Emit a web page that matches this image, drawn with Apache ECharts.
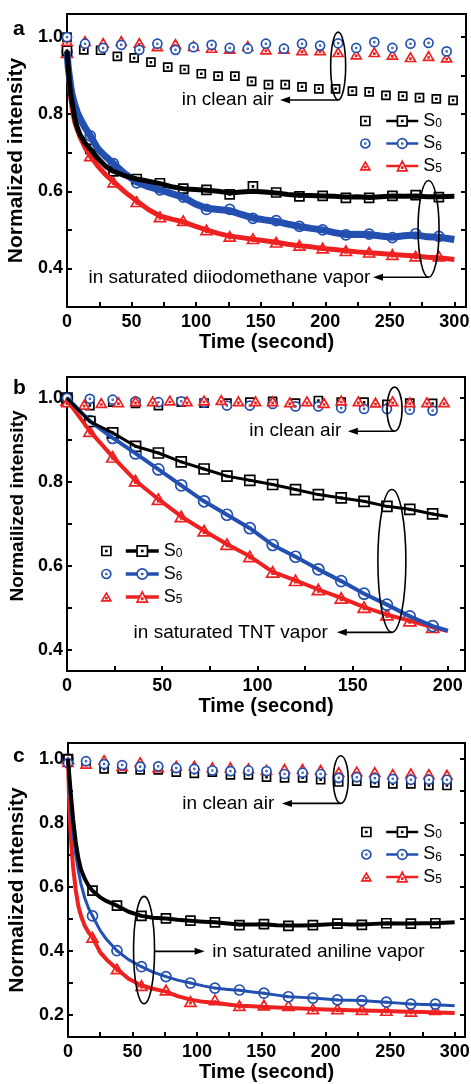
<!DOCTYPE html>
<html><head><meta charset="utf-8">
<script src="https://cdn.jsdelivr.net/npm/echarts@6/dist/echarts.min.js"></script>
<style>html,body{margin:0;padding:0;background:#fff}#c{width:471px;height:1084px}</style>
</head><body><div id="c"></div>
<script>
// ================= DATA =================
// ---- panel a : diiodomethane ----
const aAirSqX = [0,13,26,39,52,65,78,91,104,117,130,143,156,169,182,195,208,221,234,247,260,273,286,299];
const aAirSq  = [1.0,0.967,0.966,0.95,0.946,0.935,0.922,0.916,0.905,0.899,0.899,0.885,0.877,0.877,0.871,0.866,0.866,0.86,0.858,0.849,0.847,0.843,0.84,0.836];
const aAirX   = [0,14,28,42,56,70,84,98,112,126,140,154,168,182,196,210,224,238,252,266,280,294];
const aAirCi  = [1.0,0.983,0.972,0.980,0.967,0.983,0.967,0.974,0.980,0.972,0.970,0.983,0.970,0.983,0.978,0.984,0.972,0.987,0.972,0.983,0.985,0.963];
const aAirTr  = [0.99,0.99,0.985,0.99,0.985,0.976,0.982,0.977,0.972,0.970,0.977,0.968,0.970,0.966,0.966,0.961,0.955,0.961,0.954,0.948,0.951,0.947];
const aLineX  = [0,1,2,3,4,6,8,10,14,18,24,30,36,45,54,63,72,81,90,99,108,117,126,135,144,153,162,171,180,189,198,207,216,225,234,243,252,261,270,279,288,300];
const aS0 = [0.965,0.92,0.88,0.85,0.83,0.79,0.765,0.748,0.725,0.71,0.685,0.665,0.652,0.64,0.632,0.626,0.62,0.612,0.607,0.605,0.603,0.600,0.596,0.598,0.6,0.598,0.596,0.592,0.59,0.589,0.588,0.587,0.585,0.586,0.584,0.586,0.588,0.587,0.588,0.586,0.586,0.587];
const aS6 = [0.962,0.92,0.895,0.87,0.85,0.825,0.805,0.79,0.765,0.744,0.71,0.69,0.672,0.645,0.624,0.612,0.604,0.594,0.585,0.568,0.556,0.553,0.55,0.54,0.531,0.526,0.522,0.515,0.509,0.504,0.500,0.493,0.488,0.489,0.488,0.484,0.481,0.485,0.487,0.482,0.481,0.475];
const aS5 = [0.96,0.91,0.87,0.84,0.815,0.78,0.76,0.742,0.714,0.692,0.665,0.643,0.625,0.598,0.575,0.553,0.536,0.528,0.521,0.51,0.5,0.491,0.484,0.48,0.476,0.472,0.468,0.463,0.459,0.456,0.452,0.449,0.446,0.443,0.441,0.439,0.436,0.434,0.432,0.429,0.428,0.423];
const aMarkX  = [0,18,36,54,72,90,108,126,144,162,180,198,216,234,252,270,288];
const aMarkS0 = [0.965,0.71,0.652,0.632,0.621,0.607,0.604,0.592,0.613,0.597,0.587,0.588,0.583,0.583,0.588,0.590,0.585];
const aMarkS6 = [0.962,0.744,0.672,0.622,0.604,0.585,0.553,0.553,0.530,0.524,0.509,0.500,0.487,0.489,0.480,0.490,0.483];
const aMarkS5 = [0.96,0.692,0.624,0.573,0.534,0.524,0.500,0.483,0.477,0.468,0.460,0.453,0.446,0.442,0.436,0.432,0.432];

// ---- panel b : TNT ----
const bAirTrX = [0,9,18,27,36,45,54,63,72,81,90,99,108,117,126,135,144,153,162,171,180,189,198];
const bAirTr  = [0.99,0.984,0.988,0.990,0.992,0.992,0.994,0.992,0.994,0.995,0.992,0.992,0.992,0.990,0.992,0.988,0.994,0.992,0.989,0.992,0.990,0.990,0.990];
const bAirX   = [0,12,24,36,48,60,72,84,96,108,120,132,144,156,168,180,192];
const bAirCi  = [1.0,0.998,0.996,0.992,0.990,0.992,0.989,0.982,0.982,0.986,0.980,0.980,0.976,0.974,0.974,0.972,0.970];
const bAirSq  = [1.0,0.982,0.990,0.987,0.982,0.990,0.988,0.988,0.990,0.992,0.988,0.994,0.990,0.990,0.985,0.988,0.987];
const bLineX  = [0,12,24,36,48,60,72,84,96,108,120,132,144,156,168,180,192,200];
const bS0 = [1.0,0.944,0.917,0.885,0.869,0.848,0.831,0.814,0.804,0.794,0.782,0.770,0.762,0.754,0.742,0.735,0.724,0.718];
const bS6 = [1.0,0.945,0.905,0.868,0.830,0.792,0.754,0.722,0.690,0.650,0.622,0.592,0.564,0.534,0.508,0.480,0.457,0.446];
const bS5 = [0.995,0.921,0.860,0.803,0.759,0.718,0.684,0.652,0.623,0.586,0.566,0.544,0.524,0.502,0.484,0.470,0.454,0.445];

// ---- panel c : aniline ----
const cAirX   = [0,14,28,42,56,70,84,98,112,126,140,154,168,182,196,210,224,238,252,266,280,294];
const cAirSq  = [1.0,0.985,0.969,0.969,0.966,0.966,0.959,0.955,0.959,0.950,0.950,0.943,0.941,0.941,0.935,0.928,0.931,0.925,0.922,0.922,0.917,0.917];
const cAirCi  = [0.987,0.993,0.984,0.981,0.976,0.977,0.972,0.969,0.964,0.962,0.964,0.962,0.953,0.957,0.953,0.941,0.943,0.940,0.938,0.935,0.935,0.935];
const cAirTr  = [0.99,0.985,0.997,0.978,0.990,0.974,0.979,0.979,0.974,0.974,0.971,0.966,0.969,0.969,0.966,0.959,0.961,0.959,0.953,0.955,0.953,0.951];
const cLineX  = [0,1,2,3,4,6,8,10,13,16,19,25,30,38,47,57,66,76,85,95,105,114,124,133,143,152,162,171,181,190,200,209,219,228,238,247,257,266,276,285,300];
const cS0 = [1.0,0.95,0.9,0.855,0.81,0.74,0.69,0.655,0.625,0.603,0.588,0.567,0.555,0.541,0.522,0.509,0.503,0.501,0.497,0.494,0.491,0.489,0.485,0.482,0.482,0.483,0.480,0.479,0.479,0.480,0.482,0.484,0.482,0.482,0.484,0.486,0.485,0.485,0.486,0.486,0.489];
const cS6 = [1.0,0.92,0.86,0.81,0.77,0.70,0.65,0.61,0.565,0.532,0.509,0.463,0.435,0.400,0.372,0.350,0.333,0.319,0.308,0.299,0.290,0.283,0.279,0.276,0.271,0.267,0.261,0.256,0.254,0.252,0.249,0.246,0.245,0.244,0.241,0.239,0.236,0.233,0.232,0.231,0.228];
const cS5 = [1.0,0.85,0.77,0.71,0.66,0.59,0.54,0.51,0.478,0.457,0.442,0.395,0.372,0.343,0.312,0.291,0.281,0.272,0.258,0.247,0.240,0.237,0.232,0.228,0.226,0.224,0.222,0.221,0.219,0.218,0.216,0.215,0.214,0.213,0.212,0.211,0.21,0.209,0.208,0.207,0.205];
const cMarkX  = [0,19,38,57,76,95,114,133,152,171,190,209,228,247,266,285];
const cMarkS0 = [1.0,0.588,0.541,0.509,0.501,0.494,0.489,0.480,0.483,0.478,0.480,0.485,0.481,0.486,0.485,0.486];
const cMarkS6 = [1.0,0.509,0.400,0.350,0.319,0.299,0.283,0.277,0.267,0.256,0.252,0.246,0.244,0.239,0.233,0.233];
const cMarkS5 = [1.0,0.442,0.343,0.291,0.277,0.241,0.246,0.228,0.230,0.228,0.218,0.218,0.216,0.213,0.210,0.216];

const seriesKeys = ['S0','S6','S5'];
const xTitle = 'Time (second)';
const yTitles = ['Normalized intensity','Normailized intensity','Normalized intensity'];
const panelLetters = ['a','b','c'];
const noteTexts = ['in clean air','in saturated diiodomethane vapor','in clean air','in saturated TNT vapor','in clean air','in saturated aniline vapor'];

// ================= STYLE / LAYOUT =================
const FONT = '"Liberation Sans", Arial, Helvetica, sans-serif';
const COL = {S0:'#000000', S6:'#2350b0', S5:'#ee2020'};
const SYM = {
  S0:'path://M0,0L10,0L10,10L0,10Z M4.5,4.5L5.5,4.5L5.5,5.5L4.5,5.5Z',
  S6:'path://M5,0A5,5 0 1 1 4.99,0Z M5,4.5A0.5,0.5 0 1 1 4.99,4.5Z',
  S5:'path://M5,0L10,8.66L0,8.66Z M4.5,5.3L5.5,5.3L5.5,6.3L4.5,6.3Z'
};
const MBW = 1.7; // marker stroke
function pts(xs, ys){ return xs.map((x,i)=>[x, ys[i]]); }

const panels = [
  { id:'a', grid:{left:67, top:14, width:399, height:293}, xMax:309, yMin:0.30, yMax:1.06,
    yNameSize:21, yNamePad:[0,0,0,0], lw:{S0:5,S6:7,S5:5}, airSize:{S0:8,S6:9,S5:10}, mkSize:{S0:9,S6:10,S5:11},
    legL:{left:360, top:112}, legR:{left:385, top:112, w:32, h:12, lw:2.5}, legGap:4.5,
    airOrder:['S0','S5','S6'],
    lines:{S0:pts(aLineX,aS0), S6:pts(aLineX,aS6), S5:pts(aLineX,aS5)},
    marks:{S0:pts(aMarkX,aMarkS0), S6:pts(aMarkX,aMarkS6), S5:pts(aMarkX,aMarkS5)},
    air:{S0:pts(aAirSqX,aAirSq), S6:pts(aAirX,aAirCi), S5:pts(aAirX,aAirTr)} },
  { id:'b', grid:{left:67, top:377, width:398, height:294}, xMax:209, yMin:0.35, yMax:1.05,
    yNameSize:19, yNamePad:[0,0,0,36], lw:{S0:3,S6:4,S5:4}, airSize:{S0:8,S6:9,S5:10}, mkSize:{S0:10,S6:11,S5:12},
    legL:{left:101, top:542}, legR:{left:124, top:542, w:33, h:13, lw:3.5}, legGap:5,
    airOrder:['S0','S6','S5'],
    lines:{S0:pts(bLineX,bS0), S6:pts(bLineX,bS6), S5:pts(bLineX,bS5)},
    marks:{S0:pts(bLineX,bS0).slice(0,-1), S6:pts(bLineX,bS6).slice(0,-1), S5:pts(bLineX,bS5).slice(0,-1)},
    air:{S0:pts(bAirX,bAirSq), S6:pts(bAirX,bAirCi), S5:pts(bAirTrX,bAirTr)} },
  { id:'c', grid:{left:68, top:743, width:397, height:294}, xMax:308, yMin:0.13, yMax:1.05,
    yNameSize:21, yNamePad:[0,0,0,0], lw:{S0:4,S6:3,S5:4}, airSize:{S0:8,S6:9,S5:10}, mkSize:{S0:9,S6:10,S5:11},
    legL:{left:361, top:823}, legR:{left:385, top:823, w:32, h:12, lw:2.5}, legGap:4.5,
    airOrder:['S0','S5','S6'],
    lines:{S0:pts(cLineX,cS0), S6:pts(cLineX,cS6), S5:pts(cLineX,cS5)},
    marks:{S0:pts(cMarkX,cMarkS0), S6:pts(cMarkX,cMarkS6), S5:pts(cMarkX,cMarkS5)},
    air:{S0:pts(cAirX,cAirSq), S6:pts(cAirX,cAirCi), S5:pts(cAirX,cAirTr)} }
];

// annotation anchors (data coords of each panel)
const notes = [
  {g:0, ex:210, ey1:1.013, ey2:0.837, rx:7.5, ay:0.837, ax0:'bottom', ax1:165, tx:160, align:'right'},
  {g:0, ex:280, ey1:0.628, ey2:0.377, rx:10.5, ay:0.377, ax0:'bottom', ax1:237, tx:235, align:'right'},
  {g:1, ex:172, ey1:1.026, ey2:0.921, rx:7.5, ay:0.921, ax0:'bottom', ax1:147.5, tx:144, align:'right'},
  {g:1, ex:170.6, ey1:0.782, ey2:0.442, rx:14, ay:0.442, ax0:'bottom', ax1:141.7, tx:137, align:'right'},
  {g:2, ex:211.6, ey1:1.010, ey2:0.861, rx:7.5, ay:0.861, ax0:'bottom', ax1:166, tx:160, align:'right'},
  {g:2, ex:59, ey1:0.570, ey2:0.234, rx:10.5, ay:0.398, ax0:'right', ax1:106, tx:112, align:'left'}
];

// ================= OPTION =================
const grids=[], xAxes=[], yAxes=[], series=[], legends=[];
const tickStyle = {inside:true, length:5, lineStyle:{color:'#000', width:2}};
panels.forEach((p, gi) => {
  grids.push(Object.assign({show:true, borderColor:'#000', borderWidth:2, backgroundColor:'transparent', containLabel:false, outerBoundsMode:'none'}, p.grid));
  xAxes.push({type:'value', gridIndex:gi, min:0, max:p.xMax, minInterval:25, maxInterval:25,
    axisLine:{show:false}, axisTick:tickStyle, splitLine:{show:false},
    axisLabel:{margin:6, color:'#000', fontSize:18, fontWeight:'bold', fontFamily:FONT,
      formatter:v => Math.abs(v/50 - Math.round(v/50)) < 1e-6 ? String(Math.round(v)) : ''},
    name:xTitle, nameLocation:'middle', nameGap:25,
    nameTextStyle:{color:'#000', fontSize:20, fontWeight:'bold', fontFamily:FONT}});
  yAxes.push({type:'value', gridIndex:gi, position:'left', min:p.yMin, max:p.yMax, minInterval:0.1, maxInterval:0.1,
    axisLine:{show:false}, axisTick:tickStyle, splitLine:{show:false},
    axisLabel:{margin:4, color:'#000', fontSize:18, fontWeight:'bold', fontFamily:FONT,
      formatter:v => Math.abs(v*5 - Math.round(v*5)) < 1e-6 ? v.toFixed(1) : ''},
    name:yTitles[gi], nameLocation:'middle', nameGap:38,
    nameTextStyle:{color:'#000', fontSize:p.yNameSize, fontWeight:'bold', fontFamily:FONT, padding:p.yNamePad}});
  yAxes.push({type:'value', gridIndex:gi, position:'right', min:p.yMin, max:p.yMax, minInterval:0.1, maxInterval:0.1,
    axisLine:{show:false}, axisTick:tickStyle, splitLine:{show:false}, axisLabel:{show:false}});

  // vapor curves: S5 bottom, S6, S0 on top
  ['S5','S6','S0'].forEach(k => {
    series.push({name:p.id+k, type:'line', xAxisIndex:gi, yAxisIndex:gi*2, data:p.lines[k],
      showSymbol:false, symbol:SYM[k], symbolKeepAspect:true, silent:true, animation:false,
      lineStyle:{color:COL[k], width:p.lw[k], join:'round'},
      itemStyle:{color:'#fff', borderColor:COL[k], borderWidth:MBW}});
    series.push({name:p.id+k+'m', type:'scatter', xAxisIndex:gi, yAxisIndex:gi*2, data:p.marks[k],
      symbol:SYM[k], symbolSize:p.mkSize[k], symbolKeepAspect:true, silent:true, animation:false,
      itemStyle:{color:'#fff', borderColor:COL[k], borderWidth:MBW, opacity:1}});
  });
  p.airOrder.forEach(k => {
    series.push({name:p.id+k+'air', type:'scatter', xAxisIndex:gi, yAxisIndex:gi*2, data:p.air[k],
      symbol:SYM[k], symbolSize:p.airSize[k], symbolKeepAspect:true, silent:true, animation:false,
      itemStyle:{color:'#fff', borderColor:COL[k], borderWidth:MBW, opacity:1}});
  });

  legends.push({orient:'vertical', left:p.legL.left, top:p.legL.top, padding:0, itemGap:p.legGap,
    itemWidth:9, itemHeight:9, selectedMode:false, data:seriesKeys.map(k=>p.id+k+'air'),
    itemStyle:{borderWidth:MBW}, formatter:() => ' ',
    textStyle:{fontSize:17, lineHeight:18, fontFamily:FONT, color:'#000'}});
  legends.push({orient:'vertical', left:p.legR.left, top:p.legR.top, padding:0, itemGap:p.legGap,
    itemWidth:p.legR.w, itemHeight:p.legR.h, selectedMode:false, data:seriesKeys.map(k=>p.id+k),
    itemStyle:{borderWidth:MBW}, lineStyle:{width:p.legR.lw},
    formatter:name => '{s|S}{d|' + name.slice(-1) + '}',
    textStyle:{fontFamily:FONT, color:'#000', lineHeight:18,
      rich:{s:{fontSize:18, lineHeight:18, fontFamily:FONT, color:'#000'},
            d:{fontSize:12, lineHeight:12, verticalAlign:'bottom', fontFamily:FONT, color:'#000'}}}});
});

const option = {animation:false, backgroundColor:'#fff', grid:grids, xAxis:xAxes, yAxis:yAxes, series, legend:legends};
const chart = echarts.init(document.getElementById('c'), null, {renderer:'canvas'});
chart.setOption(option);

// ================= ANNOTATIONS =================
const gfx = [];
const letterPos = [[13,29],[13,388],[13,756]];
panelLetters.forEach((L,i) => gfx.push({type:'text', x:letterPos[i][0], y:letterPos[i][1], silent:true,
  style:{text:L, fill:'#000', font:'bold 21px '+FONT, align:'left', verticalAlign:'middle', textAlign:'left', textVerticalAlign:'middle'}}));
notes.forEach((n, i) => {
  const P1 = chart.convertToPixel({gridIndex:n.g}, [n.ex, n.ey1]);
  const P2 = chart.convertToPixel({gridIndex:n.g}, [n.ex, n.ey2]);
  const cx = P1[0], cy = (P1[1]+P2[1])/2, ry = Math.abs(P2[1]-P1[1])/2;
  gfx.push({type:'ellipse', silent:true, z:100, shape:{cx, cy, rx:n.rx, ry}, style:{fill:null, stroke:'#000', lineWidth:1.6}});
  const ay = chart.convertToPixel({gridIndex:n.g}, [n.ex, n.ay])[1];
  const x0 = n.ax0 === 'right' ? cx + n.rx : cx;
  const x1 = chart.convertToPixel({gridIndex:n.g}, [n.ax1, n.ay])[0];
  const dir = Math.sign(x1 - x0);
  gfx.push({type:'line', silent:true, z:100, shape:{x1:x0, y1:ay, x2:x1 - dir*7, y2:ay}, style:{stroke:'#000', lineWidth:1.6}});
  gfx.push({type:'polygon', silent:true, z:100, shape:{points:[[x1,ay],[x1-dir*10,ay-3.5],[x1-dir*10,ay+3.5]]}, style:{fill:'#000'}});
  const tx = chart.convertToPixel({gridIndex:n.g}, [n.tx, n.ay])[0];
  gfx.push({type:'text', silent:true, z:100, x:tx, y:ay,
    style:{text:noteTexts[i], fill:'#000', font:'19px '+FONT, align:n.align, verticalAlign:'middle', textAlign:n.align, textVerticalAlign:'middle'}});
});
chart.setOption({graphic:{elements:gfx}});
</script></body></html>
